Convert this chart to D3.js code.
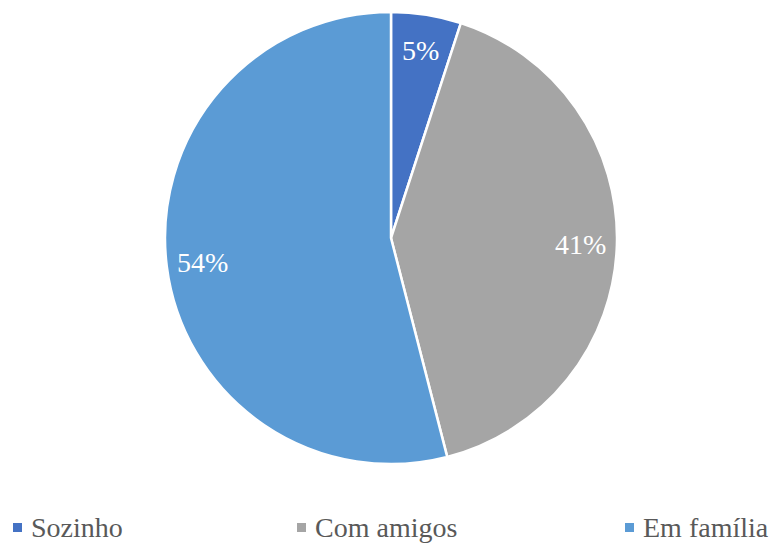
<!DOCTYPE html>
<html>
<head>
<meta charset="utf-8">
<script src="https://cdn.jsdelivr.net/npm/d3@7"></script>
<style>
  html, body { margin: 0; padding: 0; background: #fff; }
  svg { display: block; }
</style>
</head>
<body>
<svg id="chart" width="774" height="544"></svg>
<script>
// Share of respondents by company
const categories = ["Sozinho", "Com amigos", "Em família"];
const values = [5, 41, 54];
const colors = ["#4472C4", "#A5A5A5", "#5B9BD5"];

const FONT = '"Liberation Serif"';
const svg = d3.select("#chart");
const cx = 391, cy = 238, R = 226;

const pie = d3.pie().sort(null).value(d => d.value);
const data = categories.map((c, i) => ({ name: c, value: values[i], color: colors[i] }));
const arcs = pie(data);

const arc = d3.arc().innerRadius(0).outerRadius(R);
const labelArc = d3.arc().innerRadius(R * 0.84).outerRadius(R * 0.84);

const g = svg.append("g").attr("transform", `translate(${cx},${cy})`);

g.selectAll("path")
  .data(arcs)
  .join("path")
  .attr("d", arc)
  .attr("fill", d => d.data.color)
  .attr("stroke", "#fff")
  .attr("stroke-width", 2.5)
  .attr("stroke-linejoin", "round");

const total = d3.sum(values);
g.selectAll("text.lbl")
  .data(arcs)
  .join("text")
  .attr("class", "lbl")
  .attr("transform", d => `translate(${labelArc.centroid(d)})`)
  .attr("text-anchor", "middle")
  .attr("dy", "0.35em")
  .style("font-family", FONT)
  .attr("font-size", 28)
  .attr("fill", "#fff")
  .text(d => Math.round(d.data.value / total * 100) + "%");

// Legend along the bottom
const legendX = [13, 297, 625];
const legend = svg.append("g");
const item = legend.selectAll("g")
  .data(data)
  .join("g")
  .attr("transform", (d, i) => `translate(${legendX[i]},528)`);

item.append("rect")
  .attr("x", 0).attr("y", -5)
  .attr("width", 9).attr("height", 9)
  .attr("fill", d => d.color);

item.append("text")
  .attr("x", 18)
  .attr("y", 9)
  .style("font-family", FONT)
  .attr("font-size", 28)
  .attr("fill", "#595959")
  .text(d => d.name);
</script>
</body>
</html>
